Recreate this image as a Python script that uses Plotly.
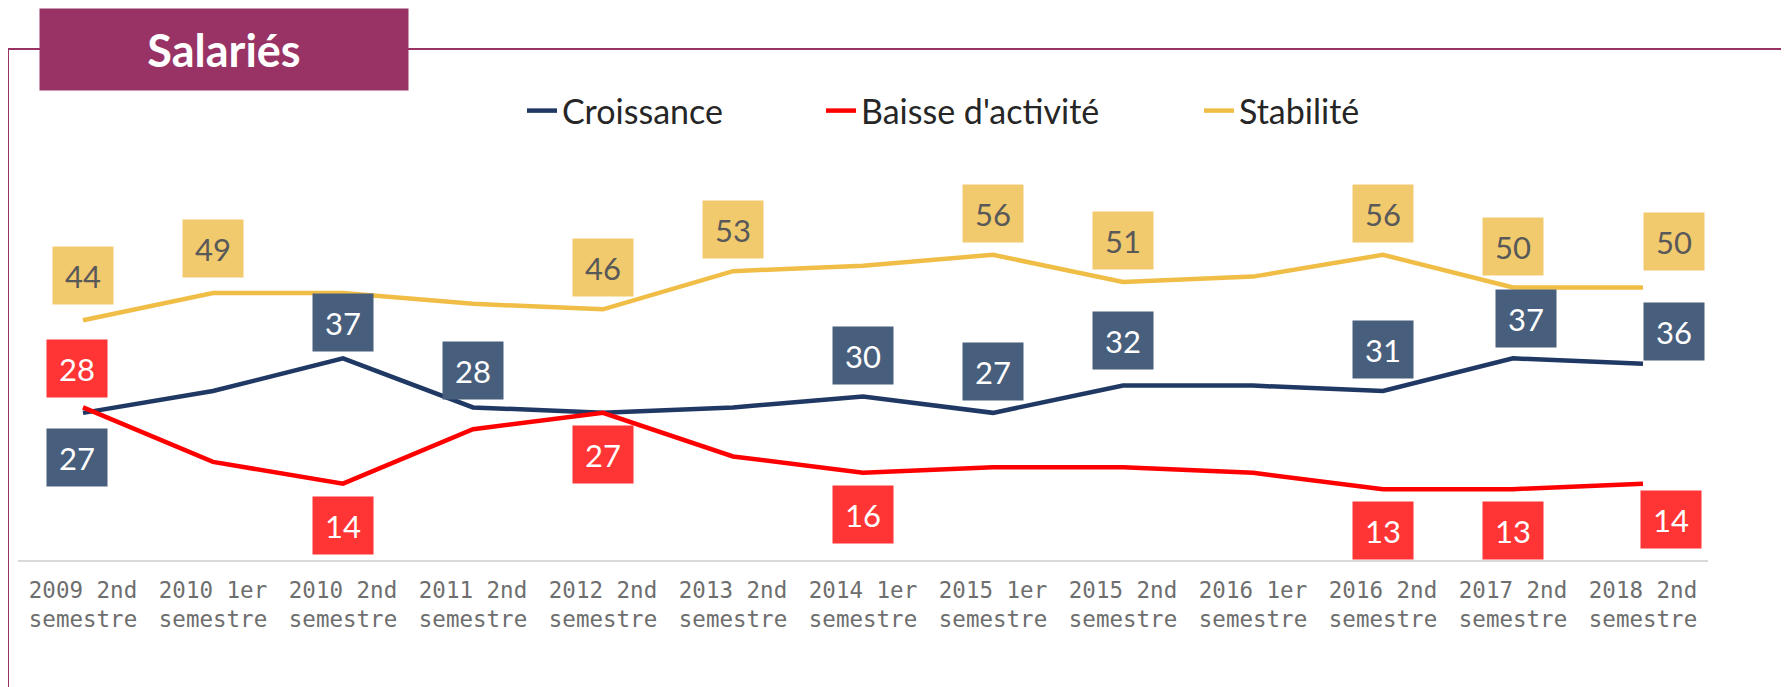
import plotly.graph_objects as go

# ---------------- data ----------------
categories = [
    "2009 2nd<br>semestre", "2010 1er<br>semestre", "2010 2nd<br>semestre",
    "2011 2nd<br>semestre", "2012 2nd<br>semestre", "2013 2nd<br>semestre",
    "2014 1er<br>semestre", "2015 1er<br>semestre", "2015 2nd<br>semestre",
    "2016 1er<br>semestre", "2016 2nd<br>semestre", "2017 2nd<br>semestre",
    "2018 2nd<br>semestre",
]
croissance = [27, 31, 37, 28, 27, 28, 30, 27, 32, 32, 31, 37, 36]
baisse = [28, 18, 14, 24, 27, 19, 16, 17, 17, 16, 13, 13, 14]
stabilite = [44, 49, 49, 47, 46, 53, 54, 56, 51, 52, 56, 50, 50]

series_names = ["Croissance", "Baisse d'activité", "Stabilité"]
title_text = "Salariés"

# indices of points that carry a value label
croissance_labeled = [0, 2, 3, 6, 7, 8, 10, 11, 12]
baisse_labeled = [0, 2, 4, 6, 10, 11, 12]
stabilite_labeled = [0, 1, 4, 5, 7, 8, 10, 11, 12]

# ---------------- styles / layout ----------------
# the page body has an 8px margin: the figure is placed at (8, 8) in the window
OFF = 8
WIN_W, WIN_H = 1789, 687
W, H = WIN_W - OFF, WIN_H - OFF
# plot area in window pixels: x 18..1708, y 233..560
ML = 18 - OFF
MR = WIN_W - 1708
MT = 233 - OFF
MB = WIN_H - 560
PW = W - ML - MR
PH = H - MT - MB

def px_x(x):  # window pixel -> paper x
    return (x - OFF - ML) / PW

def px_y(y):  # window pixel -> paper y
    return (H - MB - (y - OFF)) / PH

FONT = "Lato, 'Open Sans', sans-serif"
line_colors = ["#1F3864", "#FF0000", "#F0BE46"]
box_colors = ["#485E7D", "#FF3535", "#F2CA6E"]
box_text_colors = ["#FFFFFF", "#FFFFFF", "#595959"]
FRAME = "#993366"

BOX_W, BOX_H, GAP = 60, 57, 13

# per-label placement tweaks: (series, index) -> (side, gap, xshift)
placement = {
    ("c", 0): ("below", 16, -6),
    ("c", 2): ("above", 7, 0),
    ("c", 3): ("above", 8, 0),
    ("c", 8): ("above", 17, 0),
    ("c", 11): ("above", 11, 13),
    ("c", 12): ("above", 4, 31),
    ("b", 0): ("above", 10, -6),
    ("b", 12): ("below", 7, 28),
    ("s", 0): ("above", 16, 0),
    ("s", 1): ("above", 16, 0),
    ("s", 12): ("above", 18, 31),
}
default_side = {"c": "above", "b": "below", "s": "above"}

fig = go.Figure()
all_series = [("c", croissance, croissance_labeled),
              ("b", baisse, baisse_labeled),
              ("s", stabilite, stabilite_labeled)]

legend_keys = ["legend", "legend2", "legend3"]
for k, (key, vals, _) in enumerate(all_series):
    fig.add_trace(go.Scatter(
        x=categories, y=vals, mode="lines", name=series_names[k],
        line=dict(color=line_colors[k], width=4.5),
        legend=legend_keys[k], hoverinfo="skip",
    ))

annotations = []
for k, (key, vals, labeled) in enumerate(all_series):
    for i in labeled:
        side, gap, xs = placement.get((key, i), (default_side[key], GAP, 0))
        shift = gap + BOX_H / 2
        annotations.append(dict(
            x=categories[i], y=vals[i], xref="x", yref="y",
            text=str(vals[i]), showarrow=False,
            xshift=xs, yshift=shift if side == "above" else -shift,
            width=BOX_W, height=BOX_H, borderpad=0,
            bgcolor=box_colors[k], align="center", valign="middle",
            font=dict(family=FONT, size=31, color=box_text_colors[k]),
        ))

# title box
annotations.append(dict(
    xref="paper", yref="paper", x=px_x(39), y=px_y(8),
    xanchor="left", yanchor="top", showarrow=False,
    width=368, height=81, borderpad=0, bgcolor=FRAME,
    text="<b>" + title_text + "</b>", align="center", valign="middle",
    font=dict(family=FONT, size=45, color="#FFFFFF"),
))

shapes = [
    dict(type="line", xref="paper", yref="paper",
         x0=px_x(8), x1=px_x(WIN_W + 5), y0=px_y(49), y1=px_y(49),
         line=dict(color=FRAME, width=2), layer="below"),
    dict(type="line", xref="paper", yref="paper",
         x0=px_x(8), x1=px_x(8), y0=px_y(49), y1=px_y(WIN_H + 5),
         line=dict(color=FRAME, width=2), layer="below"),
]

legend_text_x = [564, 863, 1241]
legend_common = dict(orientation="h", yanchor="middle", xanchor="left",
                     bgcolor="rgba(0,0,0,0)", borderwidth=0,
                     font=dict(family=FONT, size=34, color="#262626"))
legend_layout = {}
for k, lk in enumerate(legend_keys):
    legend_layout[lk] = dict(legend_common, x=px_x(legend_text_x[k] - 42), y=px_y(111))

fig.update_layout(
    width=W, height=H,
    margin=dict(l=ML, r=MR, t=MT, b=MB, autoexpand=False),
    paper_bgcolor="white", plot_bgcolor="white",
    showlegend=True, hovermode=False,
    annotations=annotations, shapes=shapes,
    xaxis=dict(
        type="category", showgrid=False, zeroline=False, automargin=False,
        range=[-0.5, len(categories) - 0.5],
        showline=True, linecolor="#D9D9D9", linewidth=2,
        ticks="", ticklabelstandoff=9,
        tickfont=dict(family="'DejaVu Sans Mono', monospace", size=22.5, color="#6E6E6E"),
        fixedrange=True,
    ),
    yaxis=dict(range=[0, 60], visible=False, fixedrange=True, automargin=False),
    **legend_layout,
)

fig.write_html("out.html")
